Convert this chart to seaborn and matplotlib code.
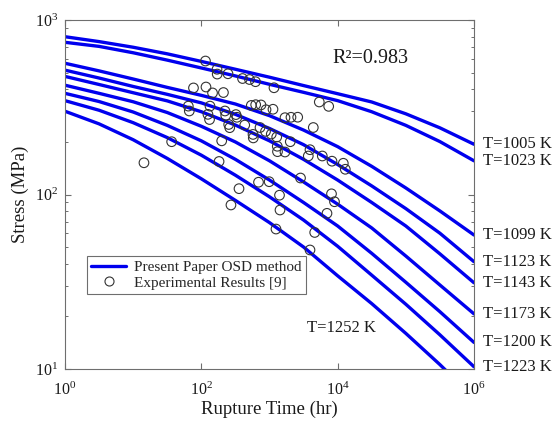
import matplotlib
matplotlib.use("Agg")
import matplotlib.pyplot as plt
import numpy as np
import pandas as pd
import seaborn as sns
from matplotlib.lines import Line2D
from matplotlib.ticker import FixedLocator, LogLocator, NullLocator, LogFormatterMathtext, NullFormatter

# ---- predicted rupture curves (OSD method), one per temperature ----
rupture_hours = [1, 3.16, 10, 31.6, 100, 316, 1000, 3160, 1e4, 3.16e4, 1e5, 3.16e5, 1e6]
rupture_hours_1252 = [1, 3.16, 10, 31.6, 100, 316, 1000, 3160, 1e4, 3.16e4, 1e5, 3.16e5, 5e5]

temperatures = [1005, 1023, 1099, 1123, 1143, 1173, 1200, 1223, 1252]

stress_1005 = [802, 752, 698, 640, 579, 522, 470, 421, 378, 339, 290, 241, 194]
stress_1023 = [745, 706, 649, 589, 531, 478, 428, 385, 345, 298, 249, 201, 156]
stress_1099 = [565, 511, 459, 411, 370, 330, 283, 234, 188, 145, 109, 80.5, 58.6]
stress_1123 = [516, 465, 416, 375, 335, 288, 239, 193, 148.5, 112, 83, 60, 41.2]
stress_1143 = [475, 427, 383, 344, 298, 250, 203, 159, 121, 90, 66, 45.7, 31.2]
stress_1173 = [423, 380, 340, 295, 246, 200, 156, 118, 88, 64.3, 44.4, 30.3, 20.7]
stress_1200 = [380, 341, 297, 249, 203, 159, 121, 90, 66, 46, 31.4, 21.3, 14.2]
stress_1223 = [345, 304, 258, 212, 168, 129, 97, 71.4, 50.5, 34.5, 23.5, 15.7, 10.3]
stress_1252 = [300, 254, 206, 161, 123, 92.5, 69, 50, 34.2, 23.7, 16, 10.6, 8.9]

# ---- experimental rupture data ----
exp_hours = [115, 170, 171, 246, 402, 509, 623, 1164, 76.7, 117, 146, 211, 64.4, 66.6,
             134, 125, 132, 222, 228, 322, 333, 252, 261, 433, 541, 627, 750, 889, 1125,
             726, 573, 578, 874, 1062, 1276, 1301, 1310, 199, 182, 36.7, 14.4, 690, 989,
             357, 272, 1402, 5375, 7383, 1687, 2066, 2592, 4390, 2018, 1687, 3926, 3707,
             5947, 8255, 12100, 12940, 2850, 8118, 8980, 1426, 6970, 1245, 4603, 3926]
exp_stress = [582, 522, 490, 492, 462, 456, 443, 409, 408, 413, 382, 384, 321, 301,
              321, 288, 269, 301, 284, 287, 277, 252, 241.5, 250, 324, 327, 326, 306, 308,
              242, 221, 211, 230, 222, 213.5, 189, 176, 203, 154.6, 200.7, 152, 117.6, 118.4,
              108, 87.1, 99.1, 339, 320, 275.5, 277, 277.3, 242, 200.7, 175.2, 180.6, 166.2,
              166.2, 155.2, 151, 139.5, 124.3, 100.9, 90.9, 81.5, 78.0, 63.4, 60.6, 48.1]

curve_stress = [stress_1005, stress_1023, stress_1099, stress_1123, stress_1143,
                stress_1173, stress_1200, stress_1223, stress_1252]

rows = []
for temp, stresses in zip(temperatures, curve_stress):
    hours = rupture_hours_1252 if temp == 1252 else rupture_hours
    for h, s in zip(hours, stresses):
        rows.append({"time": h, "stress": s, "temp": temp})
curves = pd.DataFrame(rows)
experiments = pd.DataFrame({"time": exp_hours, "stress": exp_stress})

sns.set_style("ticks")
plt.rcParams["font.family"] = ["Liberation Serif", "DejaVu Serif"]
plt.rcParams["mathtext.fontset"] = "custom"
plt.rcParams["mathtext.rm"] = "Liberation Serif"
plt.rcParams["mathtext.default"] = "regular"

BLUE = "#0000ee"
GRAY = "#6e6e6e"
INK = "#1a1a1a"

fig = plt.figure(figsize=(5.55, 4.21), dpi=100)
ax = fig.add_axes([65 / 555, 1 - 369 / 421, 409 / 555, 349 / 421])
ax.set_xscale("log")
ax.set_yscale("log")

sns.lineplot(data=curves, x="time", y="stress", hue="temp", units="temp",
             palette=[BLUE] * len(temperatures), estimator=None, sort=False,
             linewidth=2.4, legend=False, ax=ax)
sns.scatterplot(data=experiments, x="time", y="stress", marker="o", s=48,
                linewidth=0.8, legend=False, ax=ax, zorder=3)
pts = ax.collections[-1]
pts.set_facecolor("none")
pts.set_edgecolor("#333333")

ax.set_xlim(1, 1e6)
ax.set_ylim(10, 1000)

ax.xaxis.set_major_locator(FixedLocator([1, 1e2, 1e4, 1e6]))
ax.xaxis.set_minor_locator(NullLocator())
ax.xaxis.set_major_formatter(LogFormatterMathtext())
ax.yaxis.set_major_locator(FixedLocator([10, 100, 1000]))
ax.yaxis.set_minor_locator(LogLocator(base=10, subs=np.arange(2, 10)))
ax.yaxis.set_major_formatter(LogFormatterMathtext())
ax.yaxis.set_minor_formatter(NullFormatter())

ax.tick_params(which="both", direction="in", top=True, right=True, color=GRAY,
               labelsize=11.5, labelcolor=INK)
ax.tick_params(which="major", length=4, width=0.8, pad=5)
ax.tick_params(axis="x", which="major", pad=9)
ax.tick_params(which="minor", length=2.5, width=0.7)
for sp in ax.spines.values():
    sp.set_color(GRAY)
    sp.set_linewidth(0.8)

ax.set_xlabel("Rupture Time (hr)", fontsize=13.5, labelpad=1, color=INK)
ax.set_ylabel("Stress (MPa)", fontsize=13.5, labelpad=4, color=INK)

# temperature labels at the right end of each curve
for temp, stresses in zip(temperatures[:-1], curve_stress[:-1]):
    ax.annotate(f"T={temp} K", xy=(1e6, stresses[-1]), xytext=(6.5, 0),
                textcoords="offset points", ha="left", va="center",
                fontsize=12, color=INK, annotation_clip=False)
ax.text(3513, 17.1, "T=1252 K", ha="left", va="center", fontsize=12, color=INK)
ax.text(30500, 603, "R²=0.983", ha="center", va="center", fontsize=14.5, color=INK)

handles = [
    Line2D([], [], color=BLUE, lw=2.4, label="Present Paper OSD method"),
    Line2D([], [], ls="none", marker="o", mfc="none", mec="#333333", ms=6.5,
           mew=0.8, label="Experimental Results [9]"),
]
leg = ax.legend(handles=handles, loc="upper left", bbox_to_anchor=(0.053, 0.325),
                borderaxespad=0, frameon=True, fancybox=False, framealpha=1,
                edgecolor=GRAY, fontsize=11, handlelength=2.3, borderpad=0.3,
                labelspacing=0.15, handletextpad=0.5)
leg.get_frame().set_linewidth(0.8)

fig.savefig("out.png", dpi=100)
